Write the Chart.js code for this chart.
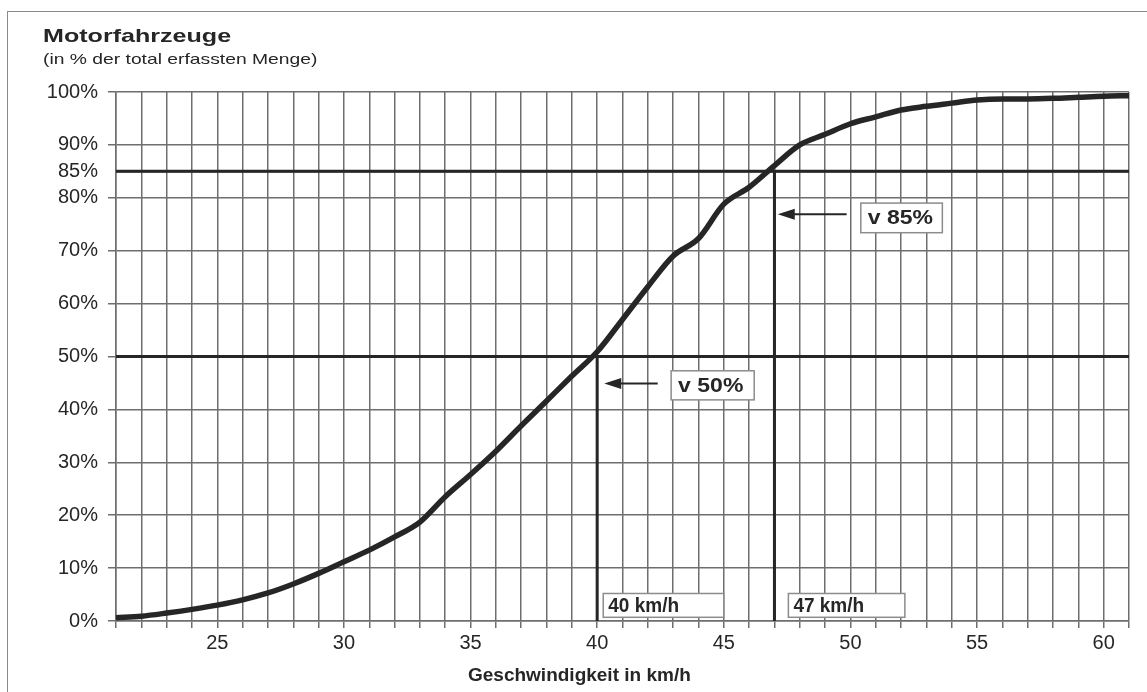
<!DOCTYPE html>
<html>
<head>
<meta charset="utf-8">
<script src="https://cdn.jsdelivr.net/npm/chart.js@4.4.0/dist/chart.umd.min.js"></script>
<style>
  html, body { margin: 0; padding: 0; background: #fff; }
  #wrap { position: relative; width: 1147px; height: 692px; }
  #frame { position: absolute; left: 7px; top: 11px; right: 0; bottom: 0;
           border-left: 1px solid #8a8a8a; border-top: 1px solid #8a8a8a; }
  #myChart { position: absolute; left: 0; top: 0; }
</style>
</head>
<body>
<div id="wrap">
  <div id="frame"></div>
  <canvas id="myChart" width="1147" height="692"></canvas>
</div>
<script>
// cumulative share of vehicles (%) by speed (km/h)
const speeds = [21, 22, 23, 24, 25, 26, 27, 28, 29, 30,
                31, 32, 33, 34, 35, 36, 37, 38, 39, 40,
                41, 42, 43, 44, 45, 46, 47, 48, 49, 50,
                51, 52, 53, 54, 55, 56, 57, 58, 59, 60, 61];
const shares = [0.6, 0.9, 1.5, 2.2, 3.0, 4.0, 5.3, 7.0, 9.0, 11.2,
                13.4, 15.9, 18.7, 23.5, 27.7, 32.1, 36.9, 41.6, 46.3, 50.9,
                57.0, 63.2, 69.0, 72.3, 78.8, 82.0, 86.1, 90.0, 92.0, 94.0,
                95.3, 96.6, 97.3, 97.9, 98.5, 98.7, 98.7, 98.8, 99.0, 99.2, 99.3];
const yTicks = [0, 10, 20, 30, 40, 50, 60, 70, 80, 85, 90, 100];

// v50 / v85 reading lines
const refShares = [50, 85];
const refSpeeds = [40, 47];
const noteTexts = ['v 50%', 'v 85%', '40 km/h', '47 km/h'];

const INK = '#262626';
const GRID = '#6e6e6e';

function stretchText(ctx, text, x, y, sx) {
    ctx.save();
    ctx.translate(x, y);
    ctx.scale(sx, 1);
    ctx.fillText(text, 0, 0);
    ctx.restore();
}

const titlesPlugin = {
    id: 'titles',
    afterDraw(chart) {
        const ctx = chart.ctx;
        ctx.save();
        ctx.fillStyle = INK;
        ctx.textAlign = 'left';
        ctx.textBaseline = 'alphabetic';
        ctx.font = 'bold 19px "Liberation Sans", Arial, sans-serif';
        stretchText(ctx, 'Motorfahrzeuge', 43, 42, 1.32);
        ctx.font = '14.5px "Liberation Sans", Arial, sans-serif';
        stretchText(ctx, '(in % der total erfassten Menge)', 43, 64, 1.33);
        ctx.font = 'bold 19px "Liberation Sans", Arial, sans-serif';
        ctx.fillText('Geschwindigkeit in km/h', 468, 681);
        ctx.restore();
    }
};

const notesPlugin = {
    id: 'notes',
    afterDatasetsDraw(chart, args, opts) {
        const {ctx, scales: {x, y}} = chart;
        ctx.save();
        opts.boxes.forEach(b => {
            const l = x.getPixelForValue(b.x0), r = x.getPixelForValue(b.x1);
            const t = y.getPixelForValue(b.y1), btm = y.getPixelForValue(b.y0);
            ctx.fillStyle = '#fff';
            ctx.fillRect(l, t, r - l, btm - t);
            ctx.strokeStyle = '#8c8c8c';
            ctx.lineWidth = 1.5;
            ctx.strokeRect(l, t, r - l, btm - t);
            ctx.fillStyle = INK;
            ctx.font = 'bold ' + b.size + 'px "Liberation Sans", Arial, sans-serif';
            ctx.textBaseline = 'middle';
            stretchText(ctx, b.text, l + b.pad, (t + btm) / 2 + 1, b.sx);
        });
        opts.arrows.forEach(a => {
            const x0 = x.getPixelForValue(a.from), x1 = x.getPixelForValue(a.to);
            const py = y.getPixelForValue(a.y);
            ctx.strokeStyle = INK;
            ctx.lineWidth = 2;
            ctx.beginPath();
            ctx.moveTo(x0, py);
            ctx.lineTo(x1 + 14, py);
            ctx.stroke();
            ctx.fillStyle = INK;
            ctx.beginPath();
            ctx.moveTo(x1, py);
            ctx.lineTo(x1 + 17, py - 5.5);
            ctx.lineTo(x1 + 17, py + 5.5);
            ctx.closePath();
            ctx.fill();
        });
        ctx.restore();
    }
};

const datasets = [{
    data: speeds.map((s, i) => ({x: s, y: shares[i]})),
    borderColor: INK,
    borderWidth: 5.5,
    pointRadius: 0,
    cubicInterpolationMode: 'monotone',
}];
refShares.forEach((v, i) => {
    datasets.push({
        data: [{x: speeds[0], y: v}, {x: speeds[speeds.length - 1], y: v}],
        borderColor: INK, borderWidth: 3, pointRadius: 0,
    });
    datasets.push({
        data: [{x: refSpeeds[i], y: v}, {x: refSpeeds[i], y: 0}],
        borderColor: INK, borderWidth: 3, pointRadius: 0,
    });
});

const tickFont = { family: '"Liberation Sans", Arial, sans-serif', size: 20 };

new Chart(document.getElementById('myChart').getContext('2d'), {
    type: 'line',
    data: { datasets: datasets },
    options: {
        responsive: false,
        animation: false,
        layout: { padding: { left: 0, right: 18, top: 92, bottom: 0 } },
        plugins: {
            legend: { display: false },
            tooltip: { enabled: false },
            notes: {
                boxes: [
                    { text: noteTexts[0], x0: 42.92, x1: 46.2, y0: 41.8, y1: 47.3, size: 20, sx: 1.15, pad: 7 },
                    { text: noteTexts[1], x0: 50.41, x1: 53.63, y0: 73.4, y1: 79.0, size: 20, sx: 1.15, pad: 7 },
                    { text: noteTexts[2], x0: 40.24, x1: 45.0, y0: 0.7, y1: 5.2, size: 20, sx: 0.95, pad: 5 },
                    { text: noteTexts[3], x0: 47.55, x1: 52.15, y0: 0.7, y1: 5.2, size: 20, sx: 0.95, pad: 5 },
                ],
                arrows: [
                    { from: 42.39, to: 40.28, y: 44.9 },
                    { from: 49.85, to: 47.13, y: 76.9 },
                ],
            },
        },
        scales: {
            x: {
                type: 'linear',
                min: speeds[0],
                max: speeds[speeds.length - 1],
                afterBuildTicks: s => { s.ticks = speeds.map(v => ({ value: v })); },
                afterFit: s => { s.height = 71; },
                ticks: {
                    autoSkip: false,
                    maxRotation: 0,
                    padding: 3,
                    color: INK,
                    font: tickFont,
                    callback: v => (v % 5 === 0 ? v : ''),
                },
                grid: { color: GRID, lineWidth: 1.5, tickLength: 7 },
                border: { color: GRID, width: 1.5 },
            },
            y: {
                min: 0,
                max: 100,
                afterBuildTicks: s => { s.ticks = yTicks.map(v => ({ value: v })); },
                afterFit: s => { s.width = 116; },
                ticks: {
                    padding: 10,
                    color: INK,
                    font: tickFont,
                    callback: v => v + '%',
                },
                grid: {
                    color: GRID,
                    lineWidth: 1.5,
                    tickLength: 8,
                    tickColor: c => (c.tick && c.tick.value === 85 ? 'rgba(0,0,0,0)' : GRID),
                },
                border: { color: GRID, width: 1.5 },
            },
        },
    },
    plugins: [notesPlugin, titlesPlugin],
});
</script>
</body>
</html>
